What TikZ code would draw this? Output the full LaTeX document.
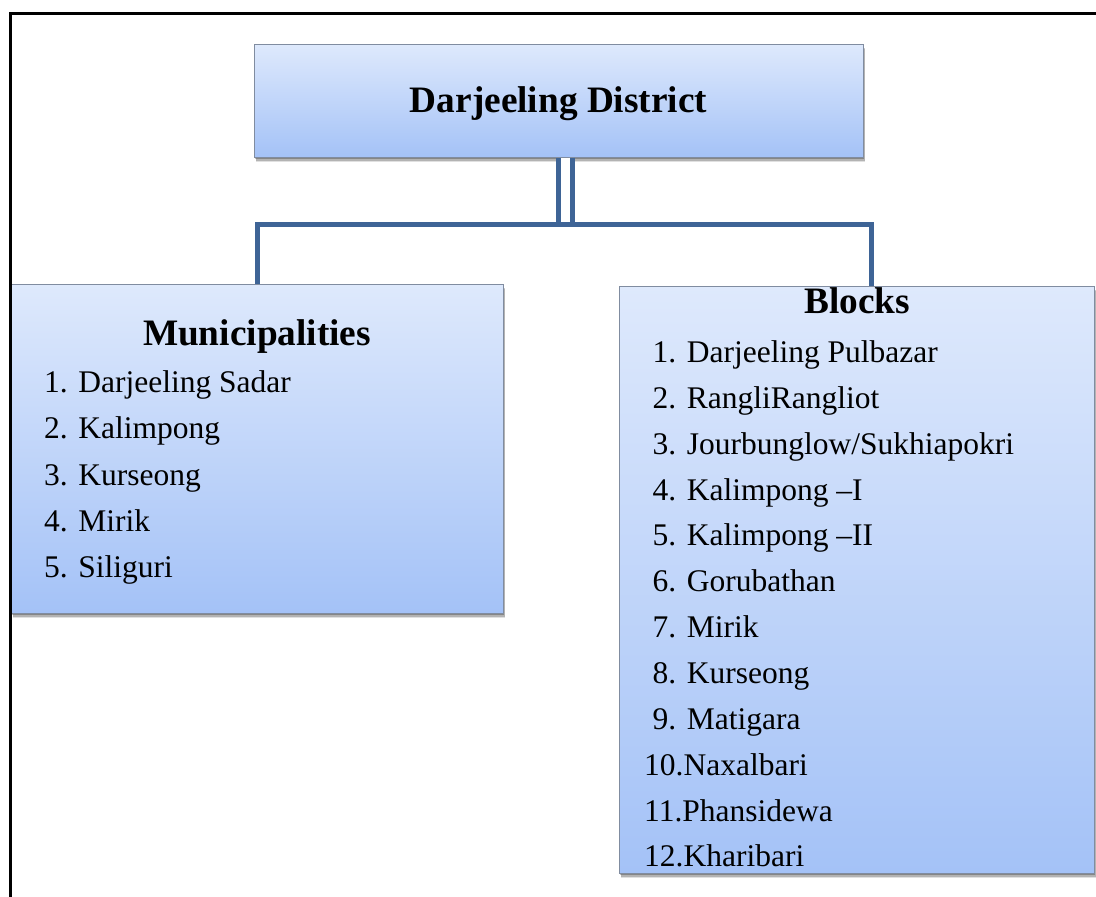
\documentclass[tikz,border=0pt]{standalone}
\usepackage{fontspec}
\setmainfont{Liberation Serif}
\usetikzlibrary{shadows}

\definecolor{boxtop}{RGB}{222,233,252}
\definecolor{boxbot}{RGB}{164,194,247}
\definecolor{boxedge}{RGB}{128,140,160}
\definecolor{linkblue}{RGB}{62,100,150}

\tikzset{
  unitbox/.style={rectangle, draw=boxedge, line width=1pt,
    top color=boxtop, bottom color=boxbot, inner sep=0pt,
    drop shadow={shadow xshift=2pt, shadow yshift=-5pt, fill=black, opacity=0.12},
    drop shadow={shadow xshift=1.5pt, shadow yshift=-3.5pt, fill=black, opacity=0.2},
    drop shadow={shadow xshift=1pt, shadow yshift=-2pt, fill=black, opacity=0.25}},
  heading/.style={font=\fontsize{37.3}{44}\selectfont\bfseries, inner sep=0pt, anchor=base},
  entry/.style={font=\fontsize{31.5}{46}\selectfont, inner sep=0pt, anchor=base west},
  linkline/.style={draw=linkblue, line width=5pt},
  pageframe/.style={draw=black, line width=3pt},
}

\begin{document}
\begin{tikzpicture}[x=1pt,y=-1pt]
\useasboundingbox (0,0) rectangle (1096,897);
\fill[white] (0,0) rectangle (1096,897);

% boxes
\node[unitbox, minimum width=609pt, minimum height=113pt] (top) at (558.5,100.5) {};
\node[unitbox, minimum width=492pt, minimum height=329pt] (muni) at (257,448.5) {};
\node[unitbox, minimum width=475pt, minimum height=587pt] (blocks) at (856.5,579.5) {};

% connectors
\coordinate (hub) at (565.5,224.5);
\coordinate (mx) at (257.5,224.5);
\coordinate (bx) at (871,224.5);
\draw[linkline, double=white, double distance=9pt] (top.south -| hub) -- (hub);
\draw[linkline] (muni.north -| mx) -- (mx) -- (bx) -- (blocks.north -| bx);

% headings
\node[heading] (t0) at (558.5,112.7) {Darjeeling District};
\node[heading] (t1) at (257,345) {Municipalities};
\node[heading] (t2) at (857,313) {Blocks};

% municipalities
\node[entry] (m1) at (44,392.7) {1. Darjeeling Sadar};
\node[entry] (m2) at (44,438.9) {2. Kalimpong};
\node[entry] (m3) at (44,485.0) {3. Kurseong};
\node[entry] (m4) at (44,531.2) {4. Mirik};
\node[entry] (m5) at (44,577.3) {5. Siliguri};

% blocks
\node[entry] (b1) at (652.5,362.7) {1. Darjeeling Pulbazar};
\node[entry] (b2) at (652.5,408.5) {2. RangliRangliot};
\node[entry] (b3) at (652.5,454.3) {3. Jourbunglow/Sukhiapokri};
\node[entry] (b4) at (652.5,500.1) {4. Kalimpong –I};
\node[entry] (b5) at (652.5,545.9) {5. Kalimpong –II};
\node[entry] (b6) at (652.5,591.7) {6. Gorubathan};
\node[entry] (b7) at (652.5,637.5) {7. Mirik};
\node[entry] (b8) at (652.5,683.3) {8. Kurseong};
\node[entry] (b9) at (652.5,729.6) {9. Matigara};
\node[entry] (b10) at (644,775.5) {10.Naxalbari};
\node[entry] (b11) at (644,821.2) {11.Phansidewa};
\node[entry] (b12) at (644,866.7) {12.Kharibari};

% page frame
\draw[pageframe] (10.5,897) -- (10.5,13.5) -- (1096,13.5);
\end{tikzpicture}
\end{document}
